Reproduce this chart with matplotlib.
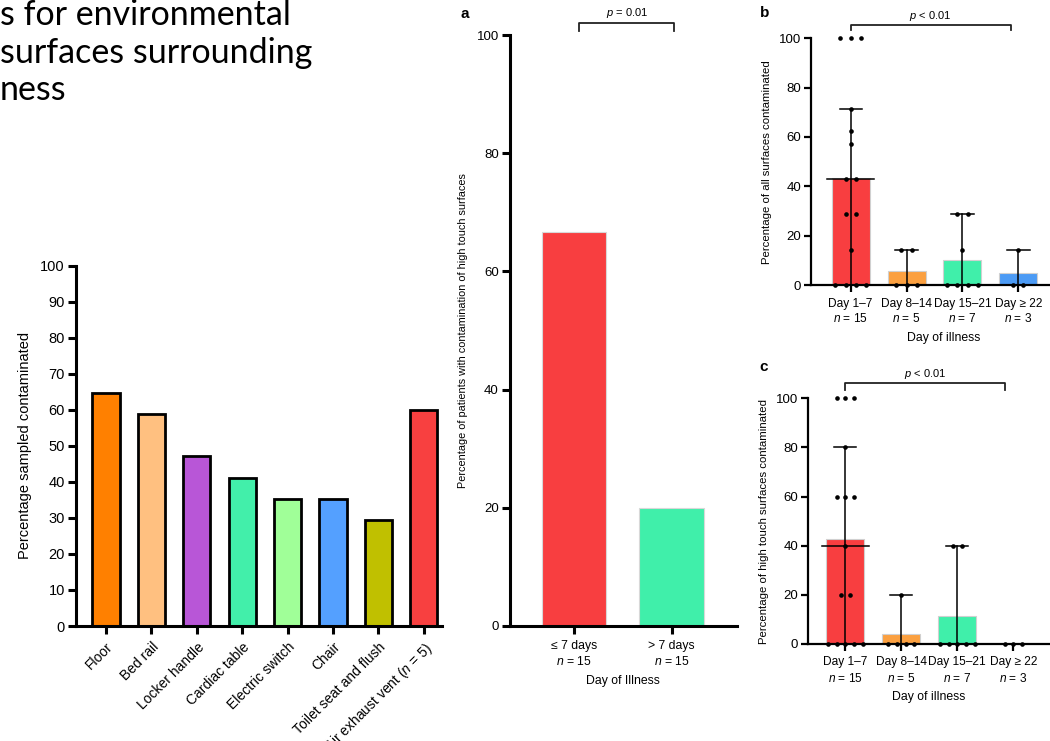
import numpy as np
import matplotlib
matplotlib.use("Agg")
import matplotlib.pyplot as plt

plt.rcParams['font.family'] = ['Liberation Sans', 'DejaVu Sans']
plt.rcParams['mathtext.fontset'] = 'custom'
plt.rcParams['mathtext.rm'] = 'Liberation Sans'
plt.rcParams['mathtext.it'] = 'Liberation Sans:italic'

# --- data -------------------------------------------------------------
title_lines = ["s for environmental", "surfaces surrounding", "ness"]

surfaces = ["Floor", "Bed rail", "Locker handle", "Cardiac table", "Electric switch",
            "Chair", "Toilet seat and flush", r"Air exhaust vent ($\it{n}$ = 5)"]
pct_contaminated = [64.7, 58.8, 47.1, 41.2, 35.3, 35.3, 29.4, 60.0]
surface_colors = ["#FF8000", "#FFC080", "#B856D7", "#42EFAA", "#A0FF98",
                  "#54A0FF", "#C0C000", "#F84040"]

illness_groups = ["\u2264 7 days", "> 7 days"]
n_a = [15, 15]
pct_patients = [66.7, 20.0]
colors_a = ["#F83E40", "#40EFAA"]

day_groups = ["Day 1\u20137", "Day 8\u201314", "Day 15\u201321", "Day \u2265 22"]
n_days = [15, 5, 7, 3]
colors_days = ["#F83E40", "#FBA040", "#40EFAA", "#4C9BF5"]

all_surf_points = [
    [100, 100, 100, 71.4, 62.5, 57.1, 42.9, 42.9, 28.6, 28.6, 14.3, 0, 0, 0, 0],
    [14.3, 14.3, 0, 0, 0],
    [28.6, 28.6, 14.3, 0, 0, 0, 0],
    [14.3, 0, 0],
]
all_surf_upper = [71.4, 14.3, 28.6, 14.3]

high_touch_points = [
    [100, 100, 100, 80, 60, 60, 60, 40, 20, 20, 0, 0, 0, 0, 0],
    [20, 0, 0, 0, 0],
    [40, 40, 0, 0, 0, 0, 0],
    [0, 0, 0],
]
high_touch_upper = [80, 20, 40, 0]

# --- layout helpers ---------------------------------------------------
W, H = 1050, 741
fig = plt.figure(figsize=(W / 100, H / 100), dpi=100)


def box(l, t, r, b):
    return [l / W, 1 - b / H, (r - l) / W, (b - t) / H]


def style_axes(ax, lw, ticklen, fs):
    for s in ['top', 'right']:
        ax.spines[s].set_visible(False)
    for s in ['left', 'bottom']:
        ax.spines[s].set_linewidth(lw)
    ax.tick_params(width=lw, length=ticklen, labelsize=fs, pad=2, color='black')


def swarm_x(center, vals, step):
    vals = np.asarray(vals, dtype=float)
    xs = np.zeros(len(vals))
    for v in np.unique(vals):
        idx = np.where(vals == v)[0]
        k = len(idx)
        xs[idx] = center + (np.arange(k) - (k - 1) / 2) * step
    return xs


def bracket(ax, x0, x1, ylow, ytop, label, ytext):
    ax.plot([x0, x0, x1, x1], [ylow, ytop, ytop, ylow], color='#222222',
            lw=1.3, clip_on=False)
    ax.text((x0 + x1) / 2, ytext, label, ha='center', va='bottom', fontsize=8,
            clip_on=False)


# --- slide title fragment ---------------------------------------------
for line, base in zip(title_lines, [25, 63, 100]):
    fig.text(0.0, 1 - base / H, line, fontsize=24.5, family='Lato', va='baseline',
             ha='left', color='black')

# --- left chart --------------------------------------------------------
ax0 = fig.add_axes(box(76, 265.7, 442, 626))
x0 = np.arange(len(surfaces))
ax0.bar(x0, pct_contaminated, width=0.6, color=surface_colors,
        edgecolor='black', linewidth=2.0)
ax0.set_xlim(-0.66, 7.4)
ax0.set_ylim(0, 100)
ax0.set_yticks(range(0, 101, 10))
ax0.set_xticks(x0)
ax0.set_xticklabels(surfaces, rotation=45, ha='right', va='top',
                    rotation_mode='anchor')
style_axes(ax0, 2.2, 6, 10.5)
ax0.tick_params(axis='x', labelsize=10, pad=4)
ax0.set_ylabel("Percentage sampled contaminated", fontsize=10.5, labelpad=6)

# --- panel a -----------------------------------------------------------
axa = fig.add_axes(box(510, 35, 736.7, 626))
xa = np.arange(len(illness_groups))
axa.bar(xa, pct_patients, width=0.66, color=colors_a, edgecolor='#d8d8d8',
        linewidth=0.8)
axa.set_xlim(-0.66, 1.67)
axa.set_ylim(0, 100)
axa.set_yticks(range(0, 101, 20))
axa.set_xticks(xa)
axa.set_xticklabels([f"{g}\n$\\it{{n}}$ = {n}" for g, n in zip(illness_groups, n_a)],
                    linespacing=1.3)
style_axes(axa, 2.2, 6, 9.5)
axa.tick_params(axis='x', labelsize=8.8, pad=4)
axa.set_xlabel("Day of Illness", fontsize=8.8, labelpad=5)
axa.set_ylabel("Percentage of patients with contamination of high touch surfaces",
               fontsize=7.8, labelpad=6)
bracket(axa, 0.05, 1.03, 100.6, 102.1, r"$\it{p}$ = 0.01", 102.6)
fig.text(465 / W, 1 - 14 / H, "a", fontsize=11, weight='bold', ha='center', va='center')


# --- panels b and c ----------------------------------------------------
def dot_panel(rect, xlim, points, upper, ylabel, step):
    ax = fig.add_axes(rect)
    xs = np.arange(len(day_groups))
    means = [np.mean(p) for p in points]
    medians = [np.median(p) for p in points]
    ax.bar(xs, means, width=0.68, color=colors_days, edgecolor='#d0d0d0',
           linewidth=0.8, zorder=1)
    for i, pts in enumerate(points):
        ax.plot([i, i], [0, upper[i]], color='black', lw=1.1, zorder=2)
        if upper[i] > 0:
            ax.plot([i - 0.2, i + 0.2], [upper[i], upper[i]], color='black', lw=1.1, zorder=2)
        ax.plot([i - 0.42, i + 0.42], [medians[i], medians[i]], color='black', lw=1.1, zorder=2)
        ax.scatter(swarm_x(i, pts, step), pts, s=11, color='black', zorder=3,
                   clip_on=False, linewidths=0)
    ax.set_xlim(*xlim)
    ax.set_ylim(0, 100)
    ax.set_yticks(range(0, 101, 20))
    ax.set_xticks(xs)
    ax.set_xticklabels([f"{g}\n$\\it{{n}}$ = {n}" for g, n in zip(day_groups, n_days)],
                       linespacing=1.3)
    style_axes(ax, 1.6, 5, 9.5)
    ax.tick_params(axis='x', labelsize=8.6, pad=4)
    ax.set_xlabel("Day of illness", fontsize=8.8, labelpad=5)
    ax.set_ylabel(ylabel, fontsize=8.2, labelpad=5)
    return ax


axb = dot_panel(box(811, 38.3, 1077, 285), (-0.71, 4.05), all_surf_points,
                all_surf_upper, "Percentage of all surfaces contaminated", 0.185)
bracket(axb, 0.0, 2.86, 103.4, 105.4, r"$\it{p}$ < 0.01", 106.0)
fig.text(765 / W, 1 - 13 / H, "b", fontsize=11, weight='bold', ha='center', va='center')

axc = dot_panel(box(807.7, 398.3, 1050.3, 644), (-0.67, 3.66), high_touch_points,
                high_touch_upper, "Percentage of high touch surfaces contaminated", 0.155)
bracket(axc, 0.0, 2.86, 103.4, 106.3, r"$\it{p}$ < 0.01", 107.0)
fig.text(764 / W, 1 - 367 / H, "c", fontsize=11, weight='bold', ha='center', va='center')

fig.savefig("out.png", dpi=100)
